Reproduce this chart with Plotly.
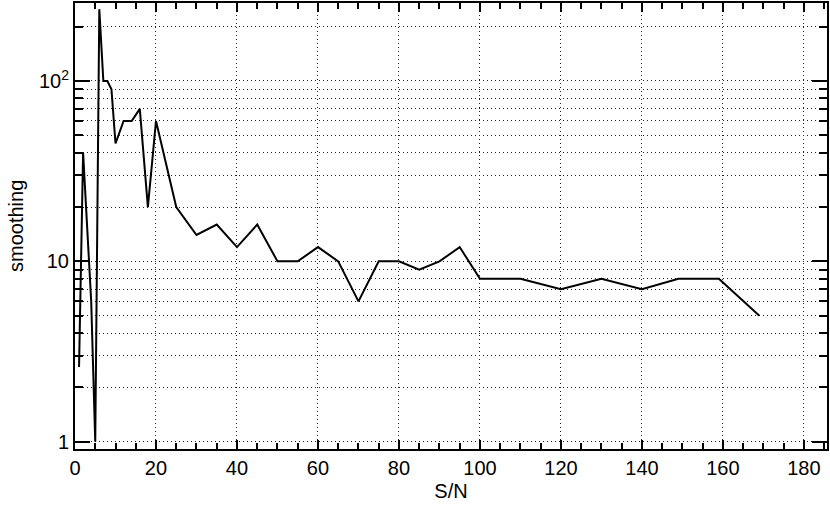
import plotly.graph_objects as go

sn = [1, 2, 4, 5, 6, 7, 8, 9, 10, 12, 14, 16, 18, 20, 25, 30, 35, 40, 45, 50,
      55, 60, 65, 70, 75, 80, 85, 90, 95, 100, 110, 120, 130, 140, 149, 159, 169]
smoothing = [2.6, 40, 6, 1, 250, 100, 100, 90, 45, 60, 60, 70, 20, 60, 20, 14, 16, 12, 16, 10,
             10, 12, 10, 6, 10, 10, 9, 10, 12, 8, 8, 7, 8, 7, 8, 8, 5]

x_ticks = [0, 20, 40, 60, 80, 100, 120, 140, 160, 180]
y_major = [1, 10, 100]
y_major_text = ["1", "10", "10<sup>2</sup>"]
y_minor = [2, 3, 4, 5, 6, 7, 8, 9, 20, 30, 40, 50, 60, 70, 80, 90, 200]

FONT = "Liberation Sans, Arial, Helvetica, sans-serif"
GRID = "#222"
DOT = "1px,3px"

fig = go.Figure()
fig.add_trace(go.Scatter(x=sn, y=smoothing, mode="lines",
                         line=dict(color="black", width=2), showlegend=False))

fig.update_layout(
    width=830, height=507,
    margin=dict(l=75, r=3, t=3, b=58),
    paper_bgcolor="white", plot_bgcolor="white",
    font=dict(family=FONT, size=20, color="black"),
    xaxis=dict(
        range=[0, 185.7], automargin=False,
        tickmode="array", tickvals=x_ticks,
        ticks="inside", ticklen=9, tickwidth=1.5, tickcolor="black",
        showline=True, linecolor="black", linewidth=2, mirror="allticks",
        showgrid=True, gridcolor=GRID, griddash=DOT, gridwidth=1,
        zeroline=False, tickfont=dict(size=20),
        minor=dict(dtick=5, ticks="inside", ticklen=6, tickwidth=1.5, tickcolor="black", showgrid=False),
        title=dict(text="S/N", font=dict(size=20), standoff=6),
    ),
    yaxis=dict(
        type="log", range=[-0.04, 2.432], automargin=False,
        tickmode="array", tickvals=y_major, ticktext=y_major_text,
        ticks="inside", ticklen=15, tickwidth=1.5, tickcolor="black",
        showline=True, linecolor="black", linewidth=2, mirror="allticks",
        showgrid=True, gridcolor=GRID, griddash=DOT, gridwidth=1,
        zeroline=False, tickfont=dict(size=20),
        minor=dict(tickmode="array", tickvals=y_minor, ticks="inside", ticklen=8, tickwidth=1.5,
                   tickcolor="black", showgrid=True, gridcolor=GRID, griddash=DOT, gridwidth=1),
    ),
    annotations=[dict(text="smoothing", textangle=-90, showarrow=False,
                      xref="paper", yref="paper", x=0, y=0.5,
                      xanchor="center", yanchor="middle", xshift=-59,
                      font=dict(size=20, family=FONT, color="black"))],
)

fig.write_html("out.html", config={"displayModeBar": False},
               post_script="document.body.style.margin='0';")
